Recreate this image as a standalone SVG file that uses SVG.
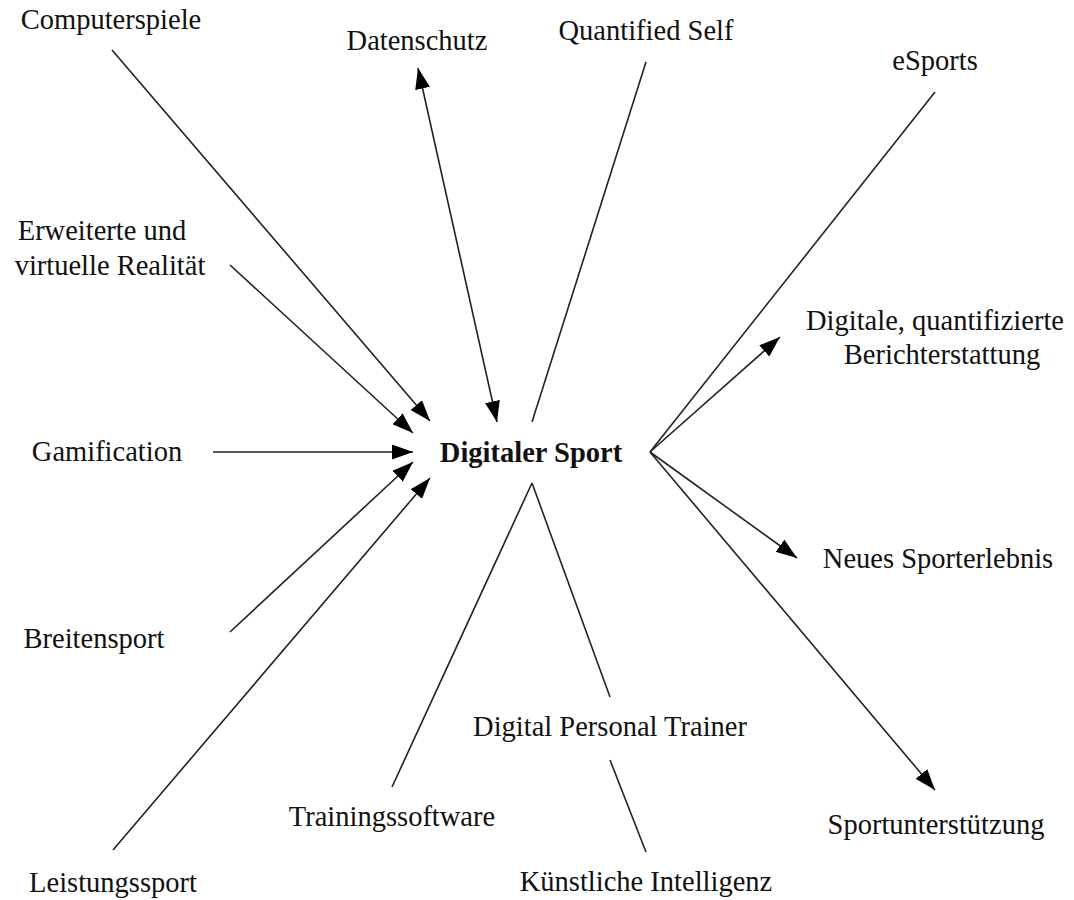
<svg xmlns="http://www.w3.org/2000/svg" width="1074" height="900" viewBox="0 0 1074 900">
<style>
text{font-family:"Liberation Serif","Times New Roman",serif;font-size:28.5px;fill:#111;text-anchor:middle}
.b{font-weight:bold}
.c line{stroke:#222;stroke-width:1.6;fill:none}
.a{marker-end:url(#ah)}
.d{marker-start:url(#ahs);marker-end:url(#ah)}
</style>
<defs>
<marker id="ah" viewBox="0 0 21 15" refX="21" refY="7.5" markerWidth="21" markerHeight="15" markerUnits="userSpaceOnUse" orient="auto"><path d="M0,0 L21,7.5 L0,15 Z" fill="#000"/></marker>
<marker id="ahs" viewBox="0 0 21 15" refX="0" refY="7.5" markerWidth="21" markerHeight="15" markerUnits="userSpaceOnUse" orient="auto"><path d="M21,0 L0,7.5 L21,15 Z" fill="#000"/></marker>
</defs>
<rect width="1074" height="900" fill="#fff"/>
<g class="c" id="connectors">
<line class="a" x1="112" y1="50" x2="430" y2="421"/>
<line class="a" x1="230" y1="265" x2="413" y2="433"/>
<line class="a" x1="213" y1="452" x2="413" y2="452"/>
<line class="a" x1="230" y1="632" x2="413" y2="462"/>
<line class="a" x1="113" y1="850" x2="430" y2="478"/>
<line class="d" x1="418" y1="68" x2="497" y2="422"/>
<line x1="646" y1="62" x2="532" y2="422"/>
<line x1="935" y1="92" x2="650" y2="452"/>
<line class="a" x1="650" y1="452" x2="780" y2="337"/>
<line class="a" x1="650" y1="452" x2="797" y2="558"/>
<line class="a" x1="650" y1="452" x2="935" y2="790"/>
<line x1="392" y1="787" x2="532" y2="483"/>
<line x1="532" y1="483" x2="610" y2="697"/>
<line x1="610" y1="760" x2="646" y2="852"/>
</g>
<g id="n-center"><text class="b" x="531" y="462">Digitaler Sport</text></g>
<g id="n-computerspiele"><text x="111" y="29">Computerspiele</text></g>
<g id="n-datenschutz"><text x="417" y="50">Datenschutz</text></g>
<g id="n-quantified"><text x="646" y="40">Quantified Self</text></g>
<g id="n-esports"><text x="935" y="70">eSports</text></g>
<g id="n-erweiterte"><text x="102" y="240">Erweiterte und</text><text x="110" y="275">virtuelle Realität</text></g>
<g id="n-gamification"><text x="107" y="461">Gamification</text></g>
<g id="n-breitensport"><text x="94" y="648">Breitensport</text></g>
<g id="n-leistungssport"><text x="113" y="892">Leistungssport</text></g>
<g id="n-berichterstattung"><text x="935" y="330">Digitale, quantifizierte</text><text x="942" y="364">Berichterstattung</text></g>
<g id="n-sporterlebnis"><text x="938" y="568">Neues Sporterlebnis</text></g>
<g id="n-sportunterstuetzung"><text x="936" y="834">Sportunterstützung</text></g>
<g id="n-trainer"><text x="610" y="736">Digital Personal Trainer</text></g>
<g id="n-software"><text x="392" y="826">Trainingssoftware</text></g>
<g id="n-ki"><text x="646" y="891">Künstliche Intelligenz</text></g>
</svg>
